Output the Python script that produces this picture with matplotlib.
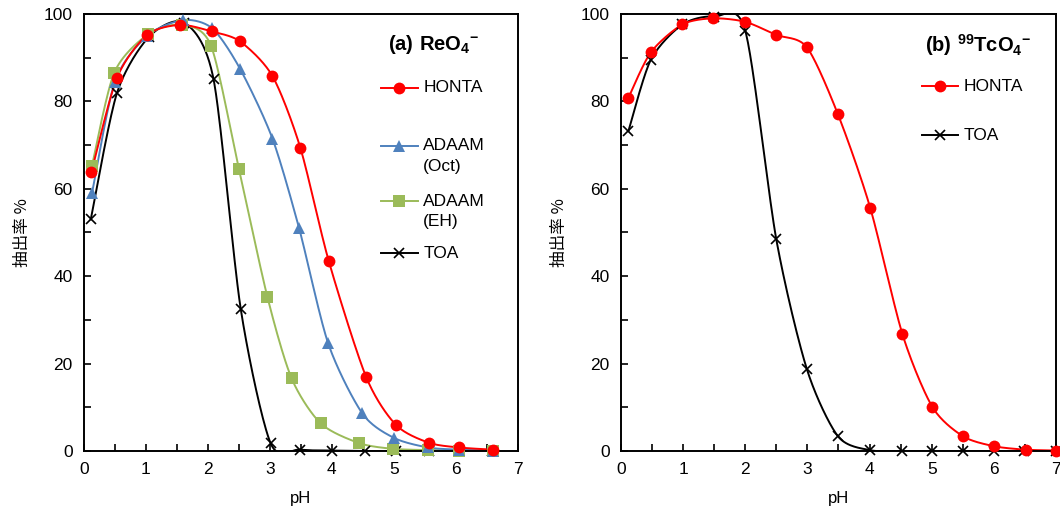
import numpy as np
import matplotlib
matplotlib.use("Agg")
import matplotlib.pyplot as plt
from matplotlib.ticker import MultipleLocator

plt.rcParams['font.family'] = ['Liberation Sans', 'DejaVu Sans']
plt.rcParams['mathtext.fontset'] = 'custom'
plt.rcParams['mathtext.rm'] = 'Liberation Sans'
plt.rcParams['mathtext.bf'] = 'Liberation Sans:bold'

# (a) ReO4- extraction
ph_a_honta = [0.12, 0.53, 1.02, 1.55, 2.06, 2.52, 3.04, 3.49, 3.95, 4.55, 5.03, 5.56, 6.05, 6.6]
ext_a_honta = [63.8, 85.3, 95.2, 97.5, 96.0, 93.7, 85.8, 69.4, 43.4, 17.0, 6.0, 1.9, 0.8, 0.3]
ph_a_oct = [0.13, 0.5, 1.02, 1.6, 2.07, 2.52, 3.04, 3.47, 3.94, 4.49, 5.0, 5.55, 6.05, 6.6]
ext_a_oct = [59.0, 84.5, 95.0, 98.6, 96.7, 87.4, 71.5, 51.0, 24.6, 8.6, 3.0, 0.8, 0.3, 0.1]
ph_a_eh = [0.13, 0.49, 1.04, 1.58, 2.05, 2.5, 2.96, 3.35, 3.82, 4.44, 4.98, 5.55, 6.05, 6.6]
ext_a_eh = [65.3, 86.6, 95.4, 97.5, 92.7, 64.5, 35.2, 16.6, 6.3, 1.8, 0.5, 0.2, 0.1, 0.1]
ph_a_toa = [0.11, 0.53, 1.05, 1.62, 2.09, 2.53, 3.01, 3.48, 4.0, 4.53, 5.04, 5.56, 6.05, 6.58]
ext_a_toa = [53.0, 81.8, 94.8, 98.0, 85.1, 32.4, 1.8, 0.3, 0.1, 0.0, 0.0, 0.0, 0.0, 0.0]

# (b) 99TcO4- extraction
ph_b_honta = [0.12, 0.48, 0.99, 1.48, 2.0, 2.5, 2.99, 3.49, 4.01, 4.53, 5.01, 5.5, 6.0, 6.51, 7.0]
ext_b_honta = [80.8, 91.2, 97.6, 99.0, 98.2, 95.2, 92.4, 77.1, 55.7, 26.7, 10.1, 3.4, 1.1, 0.3, 0.1]
ph_b_toa = [0.12, 0.48, 0.99, 1.5, 2.0, 2.5, 2.99, 3.49, 4.0, 4.52, 5.01, 5.5, 6.0, 6.49, 7.0]
ext_b_toa = [73.2, 89.5, 97.6, 99.4, 96.2, 48.4, 18.8, 3.4, 0.2, 0.0, 0.0, 0.0, 0.0, 0.0, 0.0]

RED = '#FF0000'
BLUE = '#4F81BD'
GREEN = '#9BBB59'
BLACK = '#000000'

STYLES = {
    'HONTA': dict(color=RED, marker='o', ms=8.5, mew=0),
    'OCT': dict(color=BLUE, marker='^', ms=8.5, mew=0),
    'EH': dict(color=GREEN, marker='s', ms=8, mew=0),
    'TOA': dict(color=BLACK, marker='x', ms=7, mew=1.2),
}


def smooth(xs, ys, n=30, s=0.4):
    # cardinal spline, close to excel "smoothed line"
    x = np.asarray(xs, float)
    y = np.asarray(ys, float)
    px = np.concatenate([[x[0]], x, [x[-1]]])
    py = np.concatenate([[y[0]], y, [y[-1]]])
    t = np.linspace(0, 1, n)
    h00 = 2 * t ** 3 - 3 * t ** 2 + 1
    h10 = t ** 3 - 2 * t ** 2 + t
    h01 = -2 * t ** 3 + 3 * t ** 2
    h11 = t ** 3 - t ** 2
    outx, outy = [], []
    for i in range(1, len(px) - 2):
        for p, out in ((px, outx), (py, outy)):
            m1 = s * (p[i + 1] - p[i - 1])
            m2 = s * (p[i + 2] - p[i])
            out.append(h00 * p[i] + h10 * m1 + h01 * p[i + 1] + h11 * m2)
    return np.concatenate(outx), np.concatenate(outy)


def draw_series(ax, xs, ys, key):
    st = STYLES[key]
    sx, sy = smooth(xs, ys)
    ax.plot(sx, sy, color=st['color'], lw=1.4, zorder=2)
    ax.plot(xs, ys, ls='none', marker=st['marker'], ms=st['ms'], mew=st['mew'],
            color=st['color'], mec=st['color'], zorder=3, clip_on=False)


def legend_entry(ax, x0, x1, y, key, label, dy=0.048):
    st = STYLES[key]
    ax.plot([x0, (x0 + x1) / 2, x1], [y, y, y], transform=ax.transAxes, color=st['color'],
            lw=1.4, marker=st['marker'], ms=st['ms'], mew=st['mew'], mec=st['color'],
            markevery=[1], clip_on=False)
    for k, line in enumerate(label.split('\n')):
        ax.text(x1 + 0.012, y - k * dy, line, transform=ax.transAxes, fontsize=12.5,
                va='center', ha='left')


def style_axes(ax):
    ax.set_xlim(0, 7)
    ax.set_ylim(0, 100)
    ax.xaxis.set_major_locator(MultipleLocator(1))
    ax.xaxis.set_minor_locator(MultipleLocator(0.5))
    ax.yaxis.set_major_locator(MultipleLocator(20))
    ax.yaxis.set_minor_locator(MultipleLocator(10))
    ax.tick_params(which='both', direction='in', length=5, width=1.2, top=False, right=False)
    ax.tick_params(axis='x', which='major', labelsize=12.5, pad=8)
    ax.tick_params(axis='y', which='major', labelsize=12.5, pad=8)
    for s in ax.spines.values():
        s.set_linewidth(1.4)
    ax.set_xlabel('pH', fontsize=12, labelpad=10)
    ax.set_ylabel('抽出率 %', fontsize=12, family=['Noto Sans CJK JP', 'Liberation Sans'], labelpad=9)


fig = plt.figure(figsize=(10.6, 5.17), dpi=100)
ax1 = fig.add_axes([0.0792, 0.1277, 0.4094, 0.8453])
ax2 = fig.add_axes([0.5858, 0.1277, 0.4104, 0.8453])

draw_series(ax1, ph_a_toa, ext_a_toa, 'TOA')
draw_series(ax1, ph_a_eh, ext_a_eh, 'EH')
draw_series(ax1, ph_a_oct, ext_a_oct, 'OCT')
draw_series(ax1, ph_a_honta, ext_a_honta, 'HONTA')
style_axes(ax1)
ax1.text(0.806, 0.929, r'$\mathbf{(a)\ ReO_4{}^{-}}$', transform=ax1.transAxes,
         fontsize=14.5, ha='center', va='center')
legend_entry(ax1, 0.684, 0.770, 0.831, 'HONTA', 'HONTA')
legend_entry(ax1, 0.684, 0.770, 0.698, 'OCT', 'ADAAM\n(Oct)')
legend_entry(ax1, 0.684, 0.770, 0.572, 'EH', 'ADAAM\n(EH)')
legend_entry(ax1, 0.684, 0.770, 0.453, 'TOA', 'TOA')

draw_series(ax2, ph_b_toa, ext_b_toa, 'TOA')
draw_series(ax2, ph_b_honta, ext_b_honta, 'HONTA')
style_axes(ax2)
ax2.text(0.821, 0.929, r'$\mathbf{(b)\ {}^{99}TcO_4{}^{-}}$', transform=ax2.transAxes,
         fontsize=14.5, ha='center', va='center')
legend_entry(ax2, 0.692, 0.775, 0.835, 'HONTA', 'HONTA')
legend_entry(ax2, 0.692, 0.775, 0.723, 'TOA', 'TOA')

fig.savefig('out.png', dpi=100)
